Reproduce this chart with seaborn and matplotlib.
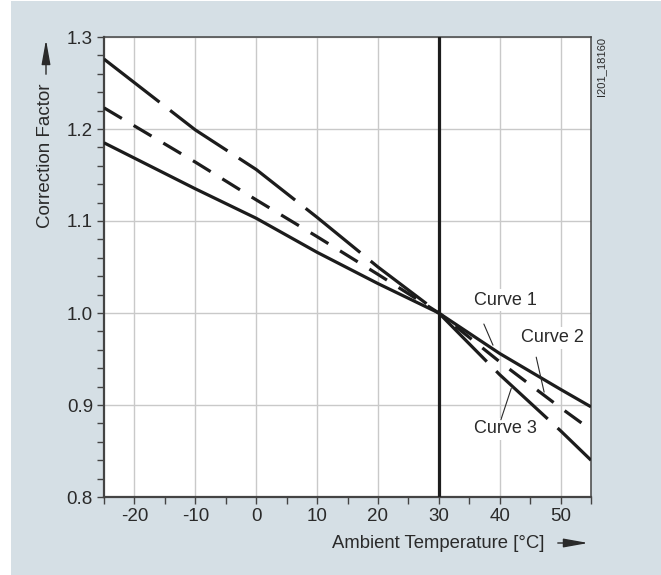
import numpy as np
import pandas as pd
import matplotlib
matplotlib.use("Agg")
import matplotlib.pyplot as plt
from matplotlib.patches import Rectangle, FancyArrowPatch
from matplotlib.ticker import MultipleLocator
import seaborn as sns

# ---- data ----
temps = [-25, -10, 0, 10, 20, 30, 40, 50, 55]
curve1 = [1.185, 1.135, 1.103, 1.066, 1.032, 1.000, 0.956, 0.917, 0.898]
curve2 = [1.223, 1.164, 1.123, 1.083, 1.042, 1.000, 0.947, 0.897, 0.873]
curve3 = [1.276, 1.199, 1.156, 1.104, 1.050, 1.000, 0.933, 0.872, 0.840]
curve_names = ["Curve 1", "Curve 2", "Curve 3"]
x_ticks = [-20, -10, 0, 10, 20, 30, 40, 50]
y_ticks = [0.8, 0.9, 1.0, 1.1, 1.2, 1.3]
ref_temp = 30
x_label = "Ambient Temperature [°C]"
y_label = "Correction Factor"
drawing_id = "I201_18160"

df = pd.DataFrame({
    "temp": temps * 3,
    "factor": curve1 + curve2 + curve3,
    "curve": [curve_names[0]] * len(temps) + [curve_names[1]] * len(temps) + [curve_names[2]] * len(temps),
})

sns.set_theme(style="white")
plt.rcParams["font.family"] = ["Liberation Sans", "DejaVu Sans"]
plt.rcParams["axes.unicode_minus"] = False

W, H = 661, 575
fig = plt.figure(figsize=(W / 100, H / 100), dpi=100)
fig.patch.set_facecolor("white")
bg = "#d5dfe5"
fig.patches.append(Rectangle((11 / W, 0), 1 - 11 / W, 1 - 1 / H, transform=fig.transFigure,
                             facecolor=bg, edgecolor="none", zorder=-10))

ax = fig.add_axes([104 / W, 1 - 497 / H, 487 / W, 460 / H])
ax.set_facecolor("white")

ink = "#1c1c1c"
txt = "#2a2a2a"
sns.lineplot(data=df, x="temp", y="factor", style="curve",
             dashes={"Curve 1": "", "Curve 2": (6.5, 4.3), "Curve 3": (22, 4.2)},
             color=ink, lw=2.3, legend=False, ax=ax, zorder=3)
for ln in ax.get_lines():
    ln.set_solid_capstyle("butt")
    ln.set_dash_capstyle("butt")

ax.axvline(ref_temp, color=ink, lw=2.3, zorder=4)

ax.set_xlim(-25, 55)
ax.set_ylim(0.8, 1.3)
ax.set_xticks(x_ticks)
ax.set_xticklabels([str(v) for v in x_ticks])
ax.set_yticks(y_ticks)
ax.set_yticklabels([f"{v:.1f}" for v in y_ticks])
ax.xaxis.set_minor_locator(MultipleLocator(5))
ax.yaxis.set_minor_locator(MultipleLocator(0.02))
ax.grid(True, which="major", color="#c9c9c9", lw=1.0, zorder=0)
ax.set_axisbelow(True)
ax.tick_params(which="both", direction="out", length=5, width=1.0, color="#444444",
               labelsize=13.5, labelcolor=txt, pad=3,
               bottom=True, left=True, top=False, right=False)
for s in ["left", "bottom"]:
    ax.spines[s].set_color("#444444")
    ax.spines[s].set_linewidth(1.6)
for s in ["top", "right"]:
    ax.spines[s].set_color("#444444")
    ax.spines[s].set_linewidth(1.1)
ax.set_xlabel("")
ax.set_ylabel("")

# axis titles with arrows
fig.text(332 / W, 1 - 543 / H, x_label, ha="left", va="center", fontsize=13.3, color=txt)
fig.add_artist(FancyArrowPatch(
    (555 / W, 1 - 543 / H), (591 / W, 1 - 543 / H), transform=fig.transFigure,
    arrowstyle="-|>,head_length=10,head_width=1.8", color=txt, lw=1.0, mutation_scale=1.5))
fig.text(46 / W, 1 - 228 / H, y_label, ha="center", va="bottom", rotation=90, fontsize=13.5, color=txt)
fig.add_artist(FancyArrowPatch(
    (46 / W, 1 - 77 / H), (46 / W, 1 - 37 / H), transform=fig.transFigure,
    arrowstyle="-|>,head_length=10,head_width=1.8", color=txt, lw=1.0, mutation_scale=1.5))

fig.text(601 / W, 1 - 37 / H, drawing_id, ha="center", va="top", rotation=90, fontsize=8, color=txt)

# curve labels with leader lines
labels = [
    ("Curve 1", (40.9, 1.014), (37.4, 0.988), (38.9, 0.965)),
    ("Curve 2", (48.6, 0.973), (46.0, 0.952), (47.3, 0.914)),
    ("Curve 3", (41.0, 0.874), (41.9, 0.918), (40.2, 0.884)),
]
for name, pos, p0, p1 in labels:
    ax.text(pos[0], pos[1], name, ha="center", va="center", fontsize=13, color=txt, zorder=6,
            bbox=dict(facecolor="white", edgecolor="none", pad=2))
    ax.plot([p0[0], p1[0]], [p0[1], p1[1]], color=txt, lw=0.8, zorder=6)

fig.savefig("out.png", dpi=100, facecolor=fig.get_facecolor())
